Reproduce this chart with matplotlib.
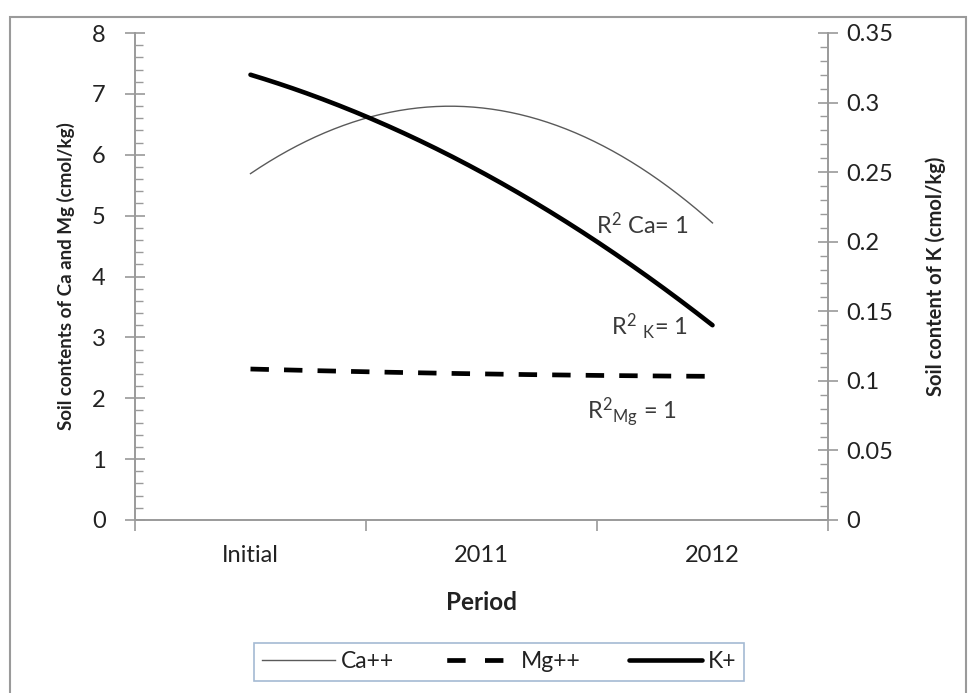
import numpy as np
import matplotlib
matplotlib.use("Agg")
import matplotlib.pyplot as plt
from matplotlib.ticker import MultipleLocator, FuncFormatter
from matplotlib.patches import Rectangle
from matplotlib.lines import Line2D

plt.rcParams['font.family'] = ['Lato', 'DejaVu Sans']
plt.rcParams['mathtext.fontset'] = 'custom'
plt.rcParams['mathtext.rm'] = 'Lato'
plt.rcParams['mathtext.it'] = 'Lato'

# ---- data ----
periods = ["Initial", "2011", "2012"]
ca = [5.69, 6.77, 4.88]
mg = [2.48, 2.40, 2.36]
k = [0.320, 0.250, 0.140]

fig = plt.figure(figsize=(9.74, 6.93), dpi=100)
ax = fig.add_axes([135/974, 1-520/693, (828-135)/974, (520-33)/693])
ax2 = ax.twinx()

x = np.arange(1, len(periods)+1)
xs = np.linspace(1, len(periods), 200)

def trend(vals):
    c = np.polyfit(x, vals, 2)
    return np.polyval(c, xs)

ca_line, = ax.plot(xs, trend(ca), color='#5a5a5a', lw=1.0, label='Ca++')
mg_line, = ax.plot(xs, trend(mg), color='black', lw=3.4, label='Mg++')
mg_line.set_dashes([3.9, 3.2])
mg_line.set_dash_capstyle('butt')
k_line, = ax2.plot(xs, trend(k), color='black', lw=3.3, label='K+', solid_capstyle='round')

# legend proxy for dashed Mg (two dashes, gap before text)
mg_proxy = Line2D([], [], color='black', lw=3.4, label='Mg++', dash_capstyle='butt',
                  linestyle=(30.9, (3.9, 4.1, 3.9, 20.0)))

axis_col = '#9a9a9a'
ax.set_xlim(0.5, len(periods)+0.5)
ax.set_ylim(0, 8)
ax2.set_ylim(0, 0.35)

for a in (ax, ax2):
    a.spines['top'].set_visible(False)
    for s in ('left', 'right', 'bottom'):
        a.spines[s].set_color(axis_col)
        a.spines[s].set_linewidth(1.2)

txt_col = '#222222'
ax.set_xticks(np.arange(0.5, len(periods)+1, 1.0))
ax.set_xticklabels([])
ax.set_xticks(x, minor=True)
ax.set_xticklabels(periods, minor=True)
ax.tick_params(axis='x', which='major', direction='out', length=8, color=axis_col, width=1.2)
ax.tick_params(axis='x', which='minor', length=0, pad=18, labelsize=17, labelcolor=txt_col)

ax.yaxis.set_major_locator(MultipleLocator(1))
ax.yaxis.set_minor_locator(MultipleLocator(0.2))
ax.tick_params(axis='y', which='major', direction='inout', length=14, color=axis_col, width=1.2,
               labelsize=17, pad=14, labelcolor=txt_col)
ax.tick_params(axis='y', which='minor', direction='in', length=6, color=axis_col, width=1.0)

ax2.yaxis.set_major_locator(MultipleLocator(0.05))
ax2.yaxis.set_minor_locator(MultipleLocator(0.01))
ax2.yaxis.set_major_formatter(FuncFormatter(lambda v, p: f"{v:g}"))
ax2.tick_params(axis='y', which='major', direction='inout', length=14, color=axis_col, width=1.2,
                labelsize=17, pad=6, labelcolor=txt_col)
ax2.tick_params(axis='y', which='minor', direction='in', length=6, color=axis_col, width=1.0)

ax.set_xlabel("Period", fontsize=17.5, fontweight='bold', labelpad=18, color=txt_col)
ax.set_ylabel("Soil contents of Ca and Mg (cmol/kg)", fontsize=13.5, fontweight='bold',
              labelpad=12, color=txt_col)
ax2.set_ylabel("Soil content of K (cmol/kg)", fontsize=14.5, fontweight='bold',
               labelpad=23, color=txt_col)

ann_col = '#3a3a3a'
ax.text(2.495, 4.85, r"R$^{2}$ Ca= 1", fontsize=17, color=ann_col, va='center', ha='left')
ax.text(2.56, 3.17, r"R$^{2}$ $_{\mathrm{K}}$= 1", fontsize=17, color=ann_col, va='center', ha='left')
ax.text(2.455, 1.77, r"R$^{2}$$_{\mathrm{Mg}}$ = 1", fontsize=17, color=ann_col, va='center', ha='left')

leg = fig.legend(handles=[ca_line, mg_proxy, k_line], loc='center',
                 bbox_to_anchor=(499/974, 1-662/693), ncol=3, frameon=True, fancybox=False,
                 fontsize=16.5, handlelength=3.2, handletextpad=0.25, columnspacing=2.1,
                 borderpad=0.35, labelcolor=txt_col)
leg.get_frame().set_edgecolor('#8ea9c8')
leg.get_frame().set_linewidth(1.2)

fig.patches.append(Rectangle((10/974, -0.1), (966-10)/974, 1.1-17/693, transform=fig.transFigure,
                             fill=False, edgecolor='#9a9a9a', linewidth=1.5))

fig.savefig("out.png", dpi=100)
